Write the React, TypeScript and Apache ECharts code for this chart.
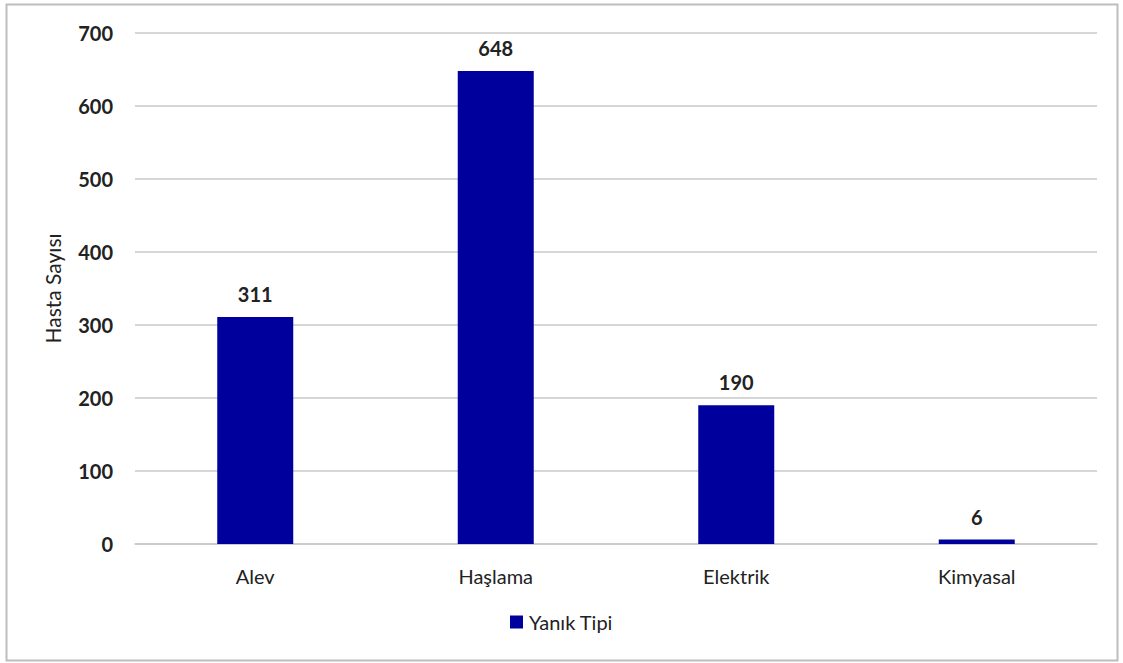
import React, { useEffect, useRef } from "react";
import * as echarts from "echarts";

const categories = ["Alev", "Haşlama", "Elektrik", "Kimyasal"];
const values = [311, 648, 190, 6];
const seriesName = "Yanık Tipi";
const yAxisTitle = "Hasta Sayısı";

const FONT = "Lato, 'Noto Sans', sans-serif";
const BAR = "#00009C";

export default function App() {
  const ref = useRef<HTMLDivElement>(null);
  useEffect(() => {
    const chart = echarts.init(ref.current!, null, { renderer: "svg" });
    chart.setOption({
      animation: false,
      backgroundColor: "#ffffff",
      textStyle: { fontFamily: FONT },
      graphic: [
        {
          type: "rect",
          shape: { x: 6.5, y: 4.5, width: 1111, height: 656 },
          style: { fill: "none", stroke: "#bdbdbd", lineWidth: 2 },
          silent: true,
        },
      ],
      grid: { left: 135, right: 26, top: 33, bottom: 119, containLabel: false },
      legend: {
        data: [seriesName],
        bottom: 26,
        left: "center",
        itemWidth: 13,
        itemHeight: 13,
        itemGap: 6,
        icon: "rect",
        textStyle: { fontFamily: FONT, fontSize: 20, color: "#222", padding: [0, 0, 0, 1] },
      },
      xAxis: {
        type: "category",
        data: categories,
        axisLine: { show: true, lineStyle: { color: "#c8c8c8", width: 1.5 } },
        axisTick: { show: false },
        axisLabel: { fontFamily: FONT, fontSize: 20, color: "#222", margin: 22 },
      },
      yAxis: {
        type: "value",
        min: 0,
        max: 700,
        interval: 100,
        name: yAxisTitle,
        nameLocation: "middle",
        nameGap: 72,
        nameTextStyle: { fontFamily: FONT, fontSize: 21, color: "#222" },
        axisLine: { show: false },
        axisTick: { show: false },
        axisLabel: { fontFamily: FONT, fontSize: 20, fontWeight: "bold", color: "#222", margin: 22 },
        splitLine: { lineStyle: { color: "#c8c8c8", width: 1.5 } },
      },
      series: [
        {
          name: seriesName,
          type: "bar",
          data: values,
          barWidth: "31.6%",
          itemStyle: { color: BAR },
          label: {
            show: true,
            position: "top",
            distance: 13,
            fontFamily: FONT,
            fontSize: 20,
            fontWeight: "bold",
            color: "#222",
          },
        },
      ],
    });
    return () => chart.dispose();
  }, []);
  return <div ref={ref} style={{ width: 1123, height: 663, position: "absolute", left: 0, top: 0 }} />;
}
